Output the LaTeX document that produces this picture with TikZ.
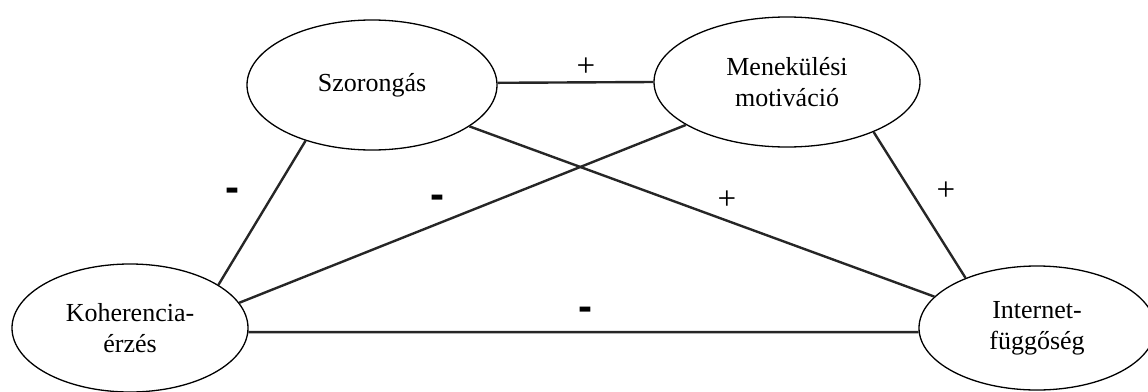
\documentclass[tikz,border=0pt]{standalone}
\usepackage{fontspec}
\setmainfont{Liberation Serif}
\newfontfamily\signfont{Liberation Sans}
\usetikzlibrary{shapes.geometric}
\begin{document}
\begin{tikzpicture}[x=1pt,y=-1pt,
  concept/.style={ellipse, draw=black, line width=1.3pt, inner sep=0pt, align=center,
    font=\fontsize{26}{31}\selectfont, fill=white},
  link/.style={draw=black!85, line width=2.4pt},
  plus/.style={font=\fontsize{33}{33}\selectfont, inner sep=0pt},
  minus/.style={font=\signfont\bfseries\fontsize{42}{42}\selectfont, inner sep=0pt}]
\useasboundingbox (0,0) rectangle (1148,391);
\node[concept, minimum width=250pt, minimum height=130pt] (sz) at (372,85) {Szorongás};
\node[concept, minimum width=266pt, minimum height=130pt] (m) at (787,82) {Menekülési\\motiváció};
\node[concept, minimum width=236pt, minimum height=128pt] (k) at (130,328) {Koherencia-\\érzés};
\node[concept, minimum width=236pt, minimum height=124pt] (i) at (1037,328) {Internet-\\függőség};
\draw[link] (sz.1) -- (m.180);
\draw[link] (sz.220) -- (k.26);
\draw[link] (m.203) -- (k.13);
\draw[link] (sz.-23) -- (i.163);
\draw[link] (m.-30) -- (i.145);
\draw[link] (k.-2) -- (i.182);
\node[plus] (l1) at (586,67) {+};
\node[minus] (l2) at (232,195) {-};
\node[minus] (l3) at (437,202) {-};
\node[plus] (l4) at (727,200) {+};
\node[plus] (l5) at (946,191) {+};
\node[minus] (l6) at (585,314) {-};
\end{tikzpicture}
\end{document}
